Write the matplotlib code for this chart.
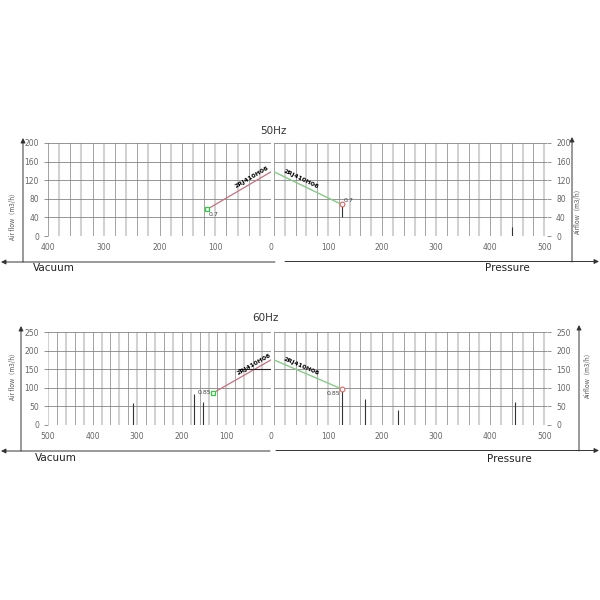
import numpy as np
import matplotlib
matplotlib.use('Agg')
import matplotlib.pyplot as plt

# 50Hz curves
vac50_x = [115, 0]
vac50_y = [57, 138]
pre50_x = [0, 125]
pre50_y = [138, 68]
pre50_bar_x = [125, 440]
pre50_bar_lo = [40, 0]
pre50_bar_hi = [66, 20]

# 60Hz curves
vac60_x = [130, 0]
vac60_y = [86, 175]
vac60_hline_x = [75, 0]
vac60_hline_y = 150
vac60_bar_x = [310, 172, 152]
vac60_bar_h = [59, 83, 62]
pre60_x = [0, 125]
pre60_y = [175, 97]
pre60_bar_x = [125, 168, 230, 446]
pre60_bar_h = [95, 70, 40, 62]

eff50 = '0.7'
eff60 = '0.85'
model = '2RJ410H06'

yticks50 = [0, 40, 80, 120, 160, 200]
yticks60 = [0, 50, 100, 150, 200, 250]
vac50_ticks = [400, 300, 200, 100, 0]
vac60_ticks = [500, 400, 300, 200, 100, 0]
pre_ticks = [100, 200, 300, 400, 500]

RED = '#c8707e'
GREEN = '#86cc86'
W = H = 600

fig = plt.figure(figsize=(6, 6), dpi=100)
fig.patch.set_facecolor('white')

# overlay in pixel coordinates for arrows and captions
ov = fig.add_axes([0, 0, 1, 1], zorder=0)
ov.set_xlim(0, W)
ov.set_ylim(H, 0)
ov.axis('off')


def px_axes(x0, y0, x1, y1):
    return fig.add_axes([x0 / W, 1 - y1 / H, (x1 - x0) / W, (y1 - y0) / H], zorder=2)


def style(ax, xlim, ylim, yticks, xticks, side):
    ax.set_xlim(*xlim)
    ax.set_ylim(*ylim)
    ax.patch.set_alpha(0)
    for s in ax.spines.values():
        s.set_visible(False)
    lo, hi = min(xlim), max(xlim)
    for i, v in enumerate(np.arange(0, 501, 20)):
        if v < lo - 1 or v > hi + 1:
            continue
        if i % 2 == 0:
            ax.axvline(v, color='#8a8a8a', lw=0.55, zorder=1)
        else:
            ax.axvline(v, color='#d2d2d2', lw=1.5, zorder=1)
    for v in yticks:
        ax.axhline(v, color='#858585', lw=0.6, zorder=1)
    ax.set_yticks(yticks)
    ax.set_xticks(xticks)
    ax.tick_params(axis='both', labelsize=5.5, colors='#666666', length=3, width=0.5)
    ax.tick_params(axis='x', length=0, pad=5)
    if side == 'right':
        ax.yaxis.tick_right()
    else:
        ax.yaxis.tick_left()


def angle(ax, xs, ys):
    p = ax.transData.transform(np.column_stack([xs, ys]))
    return np.degrees(np.arctan2(p[1, 1] - p[0, 1], p[1, 0] - p[0, 0]))


def draw_panel(top, bottom, vmax, vticks, yticks, ylim_hi, vx, vy, px_, py_):
    av = px_axes(48, top, 271, bottom)
    style(av, (vmax, 0), (0, ylim_hi), yticks, vticks, 'left')
    ap = px_axes(274, top, 547, bottom)
    style(ap, (0, 505), (0, ylim_hi), yticks, pre_ticks, 'right')

    av.plot(vx, vy, color=RED, lw=0.9, zorder=3)
    av.plot(vx[0], vy[0], marker='s', ms=3.2, mfc='white', mec='#2ecc40', mew=0.9, zorder=4)
    ap.plot(px_, py_, color=GREEN, lw=1.0, zorder=3)
    ap.plot(px_[1], py_[1], marker='o', ms=3.4, mfc='white', mec='#e07070', mew=0.9, zorder=4)

    fig.canvas.draw()
    a1 = angle(av, vx, vy)
    a2 = angle(ap, px_, py_)
    av.text(vx[0] * 0.3, vy[1] - (vy[1] - vy[0]) * 0.3 + ylim_hi * 0.06, model, rotation=a1,
            ha='center', va='center', rotation_mode='anchor', fontsize=4.5,
            fontweight='bold', color='black', zorder=5)
    ap.text(px_[1] * 0.4, py_[0] + (py_[1] - py_[0]) * 0.4 + ylim_hi * 0.06, model, rotation=a2,
            ha='center', va='center', rotation_mode='anchor', fontsize=4.5,
            fontweight='bold', color='black', zorder=5)
    return av, ap


# ---- 50Hz ----
av, ap = draw_panel(143, 236, 400, vac50_ticks, yticks50, 200,
                    vac50_x, vac50_y, pre50_x, pre50_y)
av.text(vac50_x[0] - 3, vac50_y[0] - 6, eff50, fontsize=4.5, color='#444444', va='top', zorder=5)
ap.text(pre50_x[1] + 3, pre50_y[1] + 2, eff50, fontsize=4.5, color='#444444', va='bottom', zorder=5)
ap.vlines(pre50_bar_x, pre50_bar_lo, pre50_bar_hi, color='#333333', lw=0.8, zorder=3)

# ---- 60Hz ----
bv, bp = draw_panel(332, 425, 500, vac60_ticks, yticks60, 250,
                    vac60_x, vac60_y, pre60_x, pre60_y)
bv.hlines(vac60_hline_y, vac60_hline_x[0], vac60_hline_x[1], color='#222222', lw=0.8, zorder=3)
bv.vlines(vac60_bar_x, 0, vac60_bar_h, color='#333333', lw=0.8, zorder=3)
bv.text(vac60_x[0] + 4, vac60_y[0] + 2, eff60, fontsize=4.5, color='#444444',
        ha='right', va='center', zorder=5)
bp.vlines(pre60_bar_x, 0, pre60_bar_h, color='#333333', lw=0.8, zorder=3)
bp.text(pre60_x[1] - 2, pre60_y[1] - 5, eff60, fontsize=4.5, color='#444444',
        ha='right', va='top', zorder=5)

# ---- frame arrows and captions ----
arr = dict(arrowstyle='-|>', color='#333333', lw=0.7, mutation_scale=7, shrinkA=0, shrinkB=0)
for (x, y0, y1) in [(23, 262, 138), (572, 262, 137), (21, 451, 326), (579, 451, 325)]:
    ov.annotate('', xy=(x, y1), xytext=(x, y0), arrowprops=arr)
for (y, xl, xr) in [(262, 275, 285), (451, 270, 276)]:
    ov.annotate('', xy=(1, y), xytext=(xl, y), arrowprops=arr)
    ov.annotate('', xy=(599, y - 0.5), xytext=(xr, y - 0.5), arrowprops=arr)

ov.text(33, 268, 'Vacuum', fontsize=7.5, color='#222222', ha='left', va='center')
ov.text(485, 268, 'Pressure', fontsize=7.5, color='#222222', ha='left', va='center')
ov.text(35, 458, 'Vacuum', fontsize=7.5, color='#222222', ha='left', va='center')
ov.text(487, 459, 'Pressure', fontsize=7.5, color='#222222', ha='left', va='center')
ov.text(273, 131, '50Hz', fontsize=7.5, color='#333333', ha='center', va='center')
ov.text(265, 318, '60Hz', fontsize=7.5, color='#333333', ha='center', va='center')

for (x, y) in [(13, 215), (13, 375)]:
    ov.text(x, y, 'Air flow（m3/h）', fontsize=4.5, color='#555555', rotation=90,
            ha='center', va='center', family=['Noto Sans CJK SC', 'DejaVu Sans'])
for (x, y) in [(578, 210), (588, 373)]:
    ov.text(x, y, 'Airflow（m3/h）', fontsize=4.5, color='#555555', rotation=90,
            ha='center', va='center', family=['Noto Sans CJK SC', 'DejaVu Sans'])

fig.savefig('out.png', dpi=100, facecolor='white')
